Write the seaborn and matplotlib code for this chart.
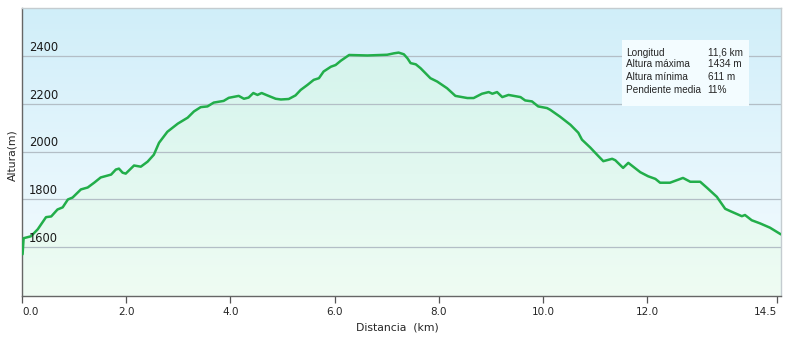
import numpy as np
import pandas as pd
import seaborn as sns
import matplotlib.pyplot as plt
from matplotlib.colors import LinearSegmentedColormap
from matplotlib.patches import Rectangle

# elevation profile
distancia_km = [0.01, 0.03, 0.17, 0.30, 0.46, 0.56, 0.68, 0.78, 0.88, 0.97,
                1.13, 1.26, 1.39, 1.51, 1.71, 1.80, 1.86, 1.93, 1.99, 2.15,
                2.28, 2.41, 2.53, 2.63, 2.79, 2.99, 3.18, 3.30, 3.43, 3.56,
                3.68, 3.87, 3.97, 4.16, 4.26, 4.35, 4.44, 4.52, 4.60, 4.71,
                4.87, 4.97, 5.12, 5.25, 5.35, 5.48, 5.60, 5.70, 5.79, 5.93,
                6.02, 6.12, 6.28, 6.63, 7.01, 7.14, 7.23, 7.33, 7.40, 7.46,
                7.56, 7.65, 7.84, 7.97, 8.16, 8.32, 8.55, 8.67, 8.83, 8.96,
                9.03, 9.12, 9.22, 9.34, 9.57, 9.66, 9.79, 9.91, 10.08, 10.14,
                10.33, 10.53, 10.68, 10.75, 10.91, 11.04, 11.16, 11.33, 11.39, 11.54,
                11.64, 11.87, 12.02, 12.16, 12.25, 12.44, 12.69, 12.83, 13.02, 13.15,
                13.34, 13.50, 13.60, 13.82, 13.88, 14.01, 14.17, 14.36, 14.57]
altura_m = [1571, 1638, 1646, 1675, 1726, 1729, 1758, 1767, 1800, 1808,
            1842, 1850, 1871, 1892, 1904, 1925, 1929, 1912, 1908, 1942,
            1937, 1958, 1987, 2037, 2083, 2117, 2142, 2168, 2186, 2189,
            2205, 2212, 2225, 2233, 2221, 2226, 2245, 2237, 2245, 2235,
            2221, 2218, 2220, 2235, 2258, 2279, 2300, 2307, 2335, 2355,
            2362, 2380, 2404, 2402, 2405, 2411, 2414, 2407, 2390, 2370,
            2365, 2349, 2307, 2293, 2265, 2233, 2224, 2224, 2242, 2249,
            2242, 2249, 2228, 2237, 2228, 2214, 2210, 2189, 2182, 2175,
            2146, 2112, 2079, 2050, 2017, 1987, 1960, 1970, 1964, 1932,
            1953, 1914, 1897, 1886, 1870, 1870, 1890, 1874, 1874, 1849,
            1811, 1761, 1751, 1730, 1735, 1713, 1700, 1682, 1654]

y_ticks = [1600, 1800, 2000, 2200, 2400]
x_ticks = [0, 2, 4, 6, 8, 10, 12, 14.5]
x_tick_labels = ["0.0", "2.0", "4.0", "6.0", "8.0", "10.0", "12.0", "14.5"]

info_labels = ["Longitud", "Altura máxima", "Altura mínima", "Pendiente media"]
info_values = ["11,6 km", "1434 m", "611 m", "11%"]

perfil = pd.DataFrame({"distancia": distancia_km, "altura": altura_m})

sns.set_style("white")
plt.rcParams['font.family'] = ['DejaVu Sans']

fig = plt.figure(figsize=(7.88, 3.38), dpi=100)
ax = fig.add_axes([0.028, 0.124, 0.963, 0.852])

x0, x1 = 0, max(distancia_km)
y0, y1 = 1396, 2600

# sky background gradient
grad = np.linspace(0, 1, 256).reshape(-1, 1)
sky = LinearSegmentedColormap.from_list("sky", ["#f6fcff", "#d0eef9"])
ax.imshow(grad, cmap=sky, origin="lower", aspect="auto",
          extent=[x0, x1, y0, y1], zorder=0)

# green gradient under the profile
area = ax.fill_between(perfil.distancia, perfil.altura, y0, color="none", zorder=1)
green = LinearSegmentedColormap.from_list("green", ["#effcf3", "#d5f4ed"])
img = ax.imshow(grad, cmap=green, origin="lower", aspect="auto",
                extent=[x0, x1, y0, 2420], zorder=1)
img.set_clip_path(area.get_paths()[0], transform=ax.transData)

for v in y_ticks:
    ax.axhline(v, color="#b3bec6", lw=0.9, zorder=2)
    ax.text(0.0095, v + 9, str(v), transform=ax.get_yaxis_transform(),
            ha="left", va="bottom", fontsize=8.3, color="#1a1a1a", zorder=4)

sns.lineplot(data=perfil, x="distancia", y="altura", color="#22ae4a",
             linewidth=1.8, ax=ax, zorder=3)

ax.set_xlim(x0, x1)
ax.set_ylim(y0, y1)
ax.set_yticks([])
ax.set_xticks(x_ticks, x_tick_labels)
ax.tick_params(axis="x", length=5, width=0.9, color="#555555", pad=2.5,
               labelsize=7.5, bottom=True)
labels = ax.get_xticklabels()
labels[0].set_ha("left")
labels[-1].set_ha("right")

ax.set_xlabel("Distancia  (km)", fontsize=7.8)
ax.set_ylabel("Altura(m)", fontsize=7.8)
ax.xaxis.set_label_coords(0.494, -0.09)
ax.yaxis.set_label_coords(-0.006, 0.49)

for side in ["left", "bottom"]:
    ax.spines[side].set_color("#666666")
    ax.spines[side].set_linewidth(1.0)
for side in ["top", "right"]:
    ax.spines[side].set_color("#c4ccd0")
    ax.spines[side].set_linewidth(1.0)

# summary box
fig.patches.append(Rectangle((0.789, 0.686), 0.161, 0.195, transform=fig.transFigure,
                             facecolor="#f3fcff", edgecolor="none", zorder=5))
rows_y = [0.844, 0.810, 0.773, 0.734]
for lab, val, yy in zip(info_labels, info_values, rows_y):
    fig.text(0.794, yy, lab, fontsize=7.2, va="center", family="Liberation Sans", zorder=6)
    fig.text(0.898, yy, val, fontsize=7.2, va="center", family="Liberation Sans", zorder=6)

fig.savefig("out.png", dpi=100)
